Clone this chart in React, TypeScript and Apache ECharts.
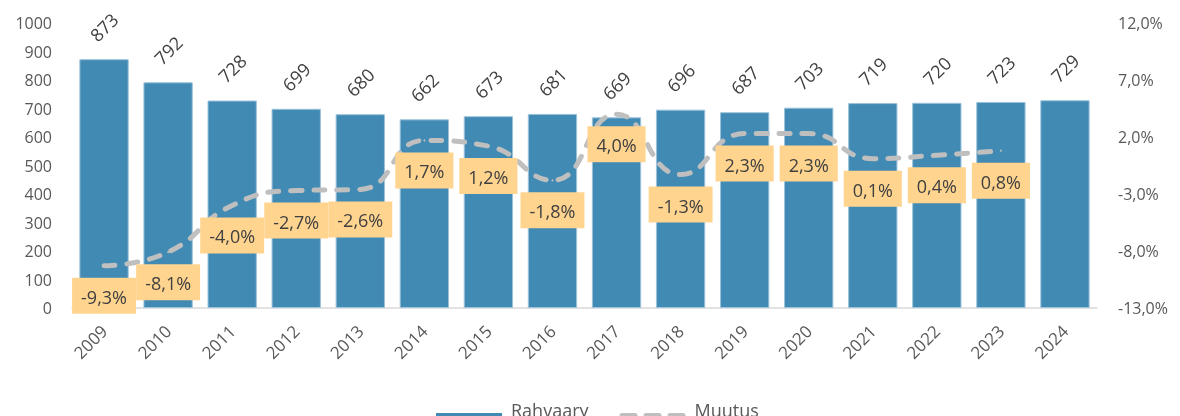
import React, { useEffect, useRef } from "react";
import * as echarts from "echarts";

const years = ["2009", "2010", "2011", "2012", "2013", "2014", "2015", "2016", "2017", "2018", "2019", "2020", "2021", "2022", "2023", "2024"];
const rahvaarv = [873, 792, 728, 699, 680, 662, 673, 681, 669, 696, 687, 703, 719, 720, 723, 729];
const muutus = [-9.3, -8.1, -4.0, -2.7, -2.6, 1.7, 1.2, -1.8, 4.0, -1.3, 2.3, 2.3, 0.1, 0.4, 0.8];

const FONT = "'Open Sans', 'Noto Sans', sans-serif";

const BAR_ICON = "path://M0,0M0,16h66v9h-66z";
const cap = (x: number) => `M${x + 2.5},16h13a2.5,2.5 0 0 1 0,5h-13a2.5,2.5 0 0 1 0,-5z`;
const LINE_ICON = "path://M0,0M66,25" + cap(0) + cap(24) + cap(48);

export default function App() {
  const ref = useRef<HTMLDivElement>(null);
  useEffect(() => {
    if (!ref.current) return;
    const chart = echarts.init(ref.current, undefined, { renderer: "svg" });
    chart.setOption({
      animation: false,
      textStyle: { fontFamily: FONT },
      grid: { left: 72, right: 83, top: 23, bottom: 108 },
      legend: {
        top: 397,
        left: 436,
        padding: 0,
        itemWidth: 66,
        itemHeight: 25,
        itemGap: 31,
        textStyle: { fontSize: 18, color: "#595959", fontFamily: FONT, padding: [0, 0, 0, 4] },
        data: [
          { name: "Rahvaary", icon: BAR_ICON, itemStyle: { color: "#418AB3", borderWidth: 0 } },
          { name: "Muutus", icon: LINE_ICON, itemStyle: { color: "#BFBFBF", borderWidth: 0 } },
        ],
      },
      xAxis: {
        type: "category",
        data: years,
        axisLine: { lineStyle: { color: "#D9D9D9", width: 1.5 } },
        axisTick: { show: false },
        axisLabel: { rotate: 45, fontSize: 17, color: "#595959", margin: 20, interval: 0 },
      },
      yAxis: [
        {
          type: "value",
          min: 0,
          max: 1000,
          interval: 100,
          splitLine: { show: false },
          axisLine: { show: false },
          axisTick: { show: false },
          axisLabel: { fontSize: 16, color: "#595959", margin: 20, formatter: (v: number) => String(v) },
        },
        {
          type: "value",
          min: -13,
          max: 12,
          interval: 5,
          position: "right",
          splitLine: { show: false },
          axisLine: { show: false },
          axisTick: { show: false },
          axisLabel: {
            fontSize: 16,
            color: "#595959",
            margin: 21,
            formatter: (v: number) => v.toFixed(1).replace(".", ",") + "%",
          },
        },
      ],
      series: [
        {
          name: "Rahvaary",
          type: "bar",
          data: rahvaarv,
          barCategoryGap: "23%",
          itemStyle: { color: "#418AB3", borderColor: "#9CC3DC", borderWidth: 1 },
          label: {
            show: true,
            position: "top",
            rotate: 45,
            align: "center",
            verticalAlign: "middle",
            distance: 32,
            fontSize: 18,
            color: "#404040",
          },
        },
        {
          name: "Muutus",
          type: "line",
          yAxisIndex: 1,
          data: muutus,
          smooth: true,
          symbol: "circle",
          symbolSize: 2,
          showSymbol: true,
          z: 5,
          lineStyle: { color: "#BFBFBF", width: 5, type: [11, 12], cap: "round" },
          itemStyle: { color: "#BFBFBF" },
          label: {
            show: true,
            position: "bottom",
            distance: 11,
            backgroundColor: "#FFD48F",
            padding: [10, 9, 8, 9],
            fontSize: 18,
            color: "#404040",
            formatter: (p: any) => Number(p.value).toFixed(1).replace(".", ",") + "%",
          },
        },
      ],
    });
    return () => chart.dispose();
  }, []);
  return <div ref={ref} style={{ position: "fixed", left: 0, top: 0, width: 1180, height: 416 }} />;
}
